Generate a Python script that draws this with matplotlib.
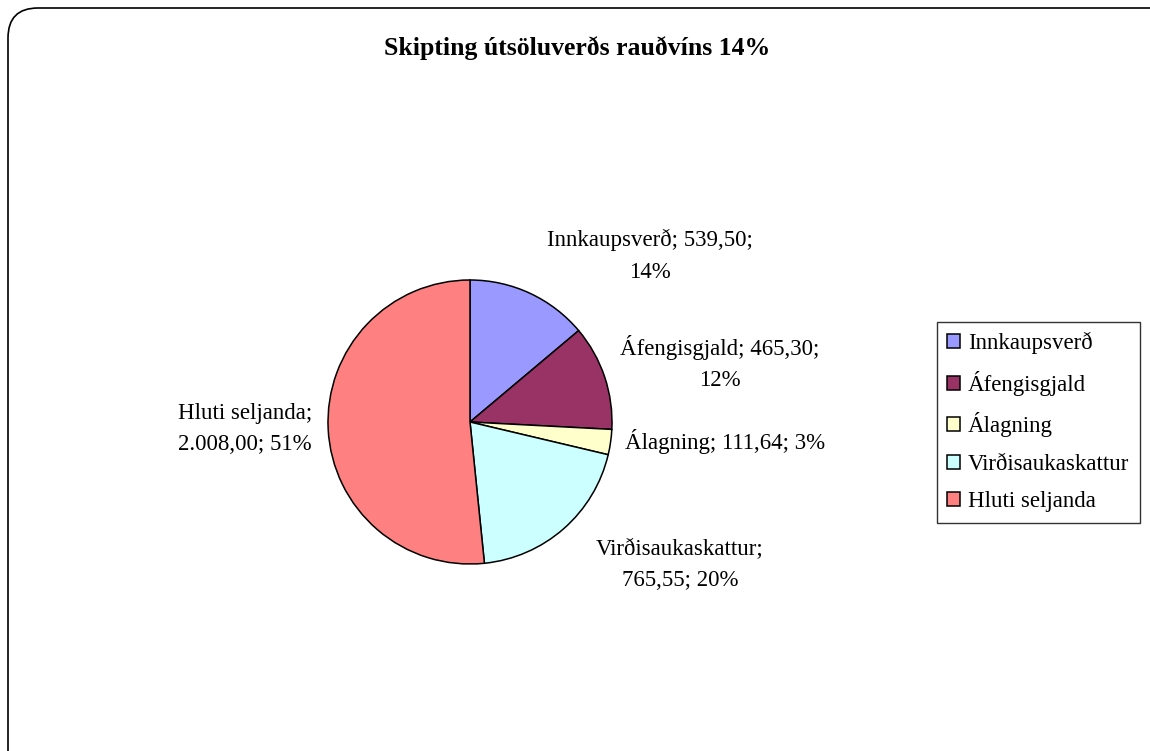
import matplotlib
matplotlib.use('Agg')
import matplotlib.pyplot as plt
from matplotlib.patches import FancyBboxPatch, Patch
from matplotlib.transforms import IdentityTransform

plt.rcParams['font.family'] = ['Liberation Serif', 'DejaVu Serif']

categories = ['Innkaupsverð', 'Áfengisgjald', 'Álagning', 'Virðisaukaskattur', 'Hluti seljanda']
values = [539.50, 465.30, 111.64, 765.55, 2008.00]
value_text = ['539,50', '465,30', '111,64', '765,55', '2.008,00']
pct_text = ['14%', '12%', '3%', '20%', '51%']
colors = ['#9999FF', '#993366', '#FFFFCC', '#CCFFFF', '#FF8080']
title = 'Skipting útsöluverðs rauðvíns 14%'

W, H = 1150, 751
fig = plt.figure(figsize=(W / 100, H / 100), dpi=100)

# rounded chart-area border, running off the right and bottom edges
border = FancyBboxPatch((8, -30), 1180, H - 8 + 30,
                        boxstyle='round,pad=0,rounding_size=30',
                        transform=IdentityTransform(), facecolor='none',
                        edgecolor='black', linewidth=1.2, zorder=-1)
fig.patches.append(border)

# pie axes: centre (470, 422) px, radius 142 px
cx, cy, r = 470, H - 422, 142
ax = fig.add_axes([(cx - r) / W, (cy - r) / H, 2 * r / W, 2 * r / H])
ax.axis('off')
wedges, _ = ax.pie(values, colors=colors, startangle=90, counterclock=False,
                   radius=1, wedgeprops=dict(edgecolor='black', linewidth=1.1))
ax.set_xlim(-1, 1)
ax.set_ylim(-1, 1)

labels = [
    f'{categories[0]}; {value_text[0]};\n{pct_text[0]}',
    f'{categories[1]}; {value_text[1]};\n{pct_text[1]}',
    f'{categories[2]}; {value_text[2]}; {pct_text[2]}',
    f'{categories[3]};\n{value_text[3]}; {pct_text[3]}',
    f'{categories[4]};\n{value_text[4]}; {pct_text[4]}',
]
# label anchor positions in pie-radius units
label_pos = [(1.268, 1.169), (1.761, 0.415), (1.796, -0.134), (1.479, -1.007), (-1.585, -0.049)]
for lab, (lx, ly) in zip(labels, label_pos):
    ax.text(lx, ly, lab, ha='center', va='center', fontsize=16.5,
            linespacing=1.65, clip_on=False)

fig.text(577 / W, 1 - 48 / H, title, ha='center', va='center',
         fontsize=18.5, fontweight='bold')

handles = [Patch(facecolor=c, edgecolor='black', linewidth=1.1) for c in colors]
leg = fig.legend(handles, categories, loc='upper left',
                 bbox_to_anchor=(937 / W, 1 - 322 / H), fontsize=16.5,
                 frameon=True, fancybox=False, shadow=False,
                 handlelength=0.55, handleheight=0.55, handletextpad=0.35,
                 labelspacing=0.72, borderpad=0.45, borderaxespad=0)
leg.get_frame().set_edgecolor('black')
leg.get_frame().set_linewidth(1.0)

fig.savefig('out.png', dpi=100, facecolor='white')
